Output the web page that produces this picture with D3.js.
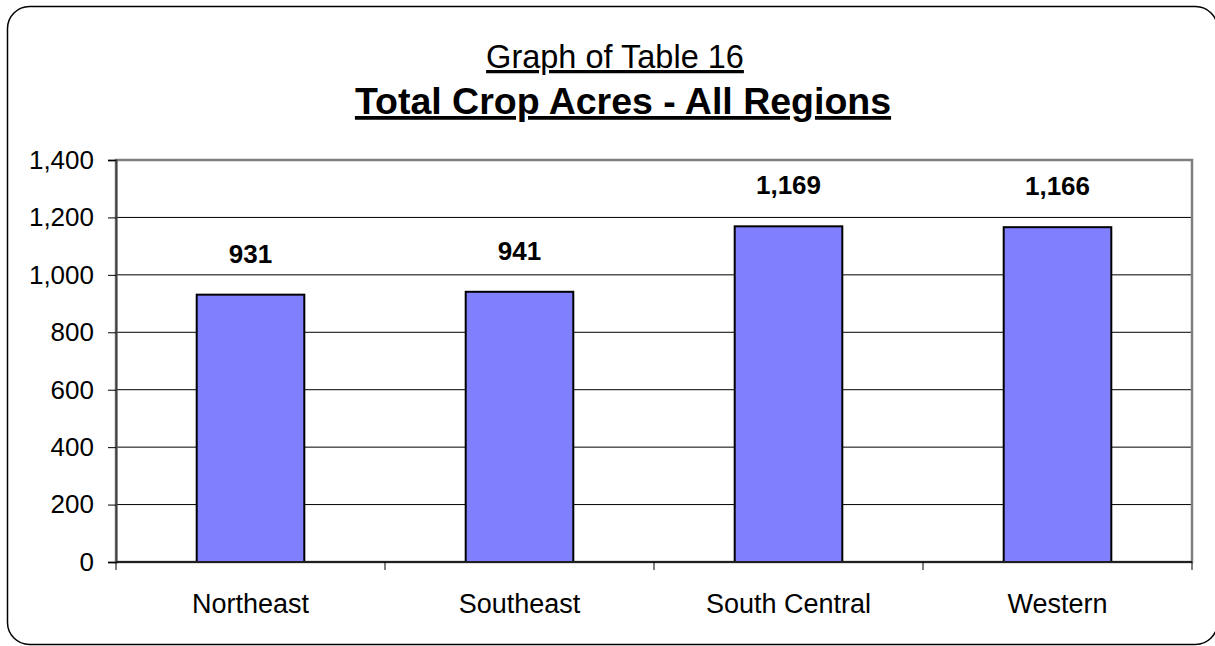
<!DOCTYPE html>
<html>
<head>
<meta charset="utf-8">
<script src="https://cdn.jsdelivr.net/npm/d3@7/dist/d3.min.js"></script>
<style>
  html, body { margin: 0; padding: 0; background: #fff; }
  svg { display: block; font-family: "Liberation Sans", Arial, sans-serif; }
</style>
</head>
<body>
<svg id="chart" width="1215" height="646"></svg>
<script>
const categories = ["Northeast", "Southeast", "South Central", "Western"];
const values = [931, 941, 1169, 1166];
const yTicks = [0, 200, 400, 600, 800, 1000, 1200, 1400];
const subtitle = "Graph of Table 16";
const title = "Total Crop Acres - All Regions";

const svg = d3.select("#chart");
const m = { left: 116, right: 1192, top: 160, bottom: 562 };

// outer rounded border
svg.append("rect")
  .attr("x", 7.5).attr("y", 6.5).attr("width", 1210).attr("height", 638)
  .attr("rx", 22).attr("ry", 22)
  .attr("fill", "#fff").attr("stroke", "#000").attr("stroke-width", 1.5);

// titles
svg.append("text").attr("x", 615).attr("y", 68)
  .attr("text-anchor", "middle").attr("font-size", 32.5)
  .attr("text-decoration", "underline").attr("fill", "#000")
  .text(subtitle);
svg.append("text").attr("x", 623).attr("y", 114)
  .attr("text-anchor", "middle").attr("font-size", 37.5).attr("font-weight", "bold")
  .attr("text-decoration", "underline").attr("fill", "#000")
  .text(title);

const x = d3.scaleBand().domain(categories).range([m.left, m.right]).padding(0);
const y = d3.scaleLinear().domain([0, 1400]).range([m.bottom, m.top]);

// gridlines
svg.append("g").selectAll("line").data(yTicks.filter(d => d > 0 && d < 1400)).join("line")
  .attr("x1", m.left).attr("x2", m.right)
  .attr("y1", d => y(d)).attr("y2", d => y(d))
  .attr("stroke", "#000").attr("stroke-width", 1);

// plot border (top/right gray)
svg.append("rect")
  .attr("x", m.left).attr("y", m.top)
  .attr("width", m.right - m.left).attr("height", m.bottom - m.top)
  .attr("fill", "none").attr("stroke", "#808080").attr("stroke-width", 2.5);

// bars
const barW = x.bandwidth() * 0.4;
svg.append("g").selectAll("rect").data(values).join("rect")
  .attr("x", (d, i) => x(categories[i]) + (x.bandwidth() - barW) / 2)
  .attr("y", d => y(d))
  .attr("width", barW)
  .attr("height", d => y(0) - y(d))
  .attr("fill", "#8080FF").attr("stroke", "#000").attr("stroke-width", 2);

// y axis
const yAxis = d3.axisLeft(y).tickValues(yTicks).tickSize(8).tickPadding(14)
  .tickFormat(d3.format(","));
const gy = svg.append("g").attr("transform", `translate(${m.left},0)`).call(yAxis);
gy.select(".domain").attr("stroke", "#404040").attr("stroke-width", 2);
gy.selectAll(".tick line").attr("stroke", "#000").attr("stroke-width", 1);
gy.selectAll(".tick text").attr("font-size", 26).attr("fill", "#000")
  .attr("font-family", "Liberation Sans, Arial, sans-serif");

// x axis
const xAxis = d3.axisBottom(x).tickSize(0).tickPadding(32);
const gx = svg.append("g").attr("transform", `translate(0,${m.bottom})`).call(xAxis);
gx.select(".domain").attr("stroke", "#202020").attr("stroke-width", 2).attr("d", `M${m.left},0H${m.right}`);
gx.selectAll(".tick text").attr("font-size", 27).attr("fill", "#000")
  .attr("font-family", "Liberation Sans, Arial, sans-serif");
// category boundary ticks
const bounds = categories.map(c => x(c)).concat([x(categories[categories.length - 1]) + x.bandwidth()]);
gx.append("g").selectAll("line").data(bounds).join("line")
  .attr("x1", d => d).attr("x2", d => d).attr("y1", 0).attr("y2", 8)
  .attr("stroke", "#000").attr("stroke-width", 1);

// value labels
svg.append("g").selectAll("text").data(values).join("text")
  .attr("x", (d, i) => x(categories[i]) + x.bandwidth() / 2)
  .attr("y", d => y(d) - 32)
  .attr("text-anchor", "middle").attr("font-size", 26).attr("font-weight", "bold")
  .attr("fill", "#000")
  .text(d => d3.format(",")(d));
</script>
</body>
</html>
